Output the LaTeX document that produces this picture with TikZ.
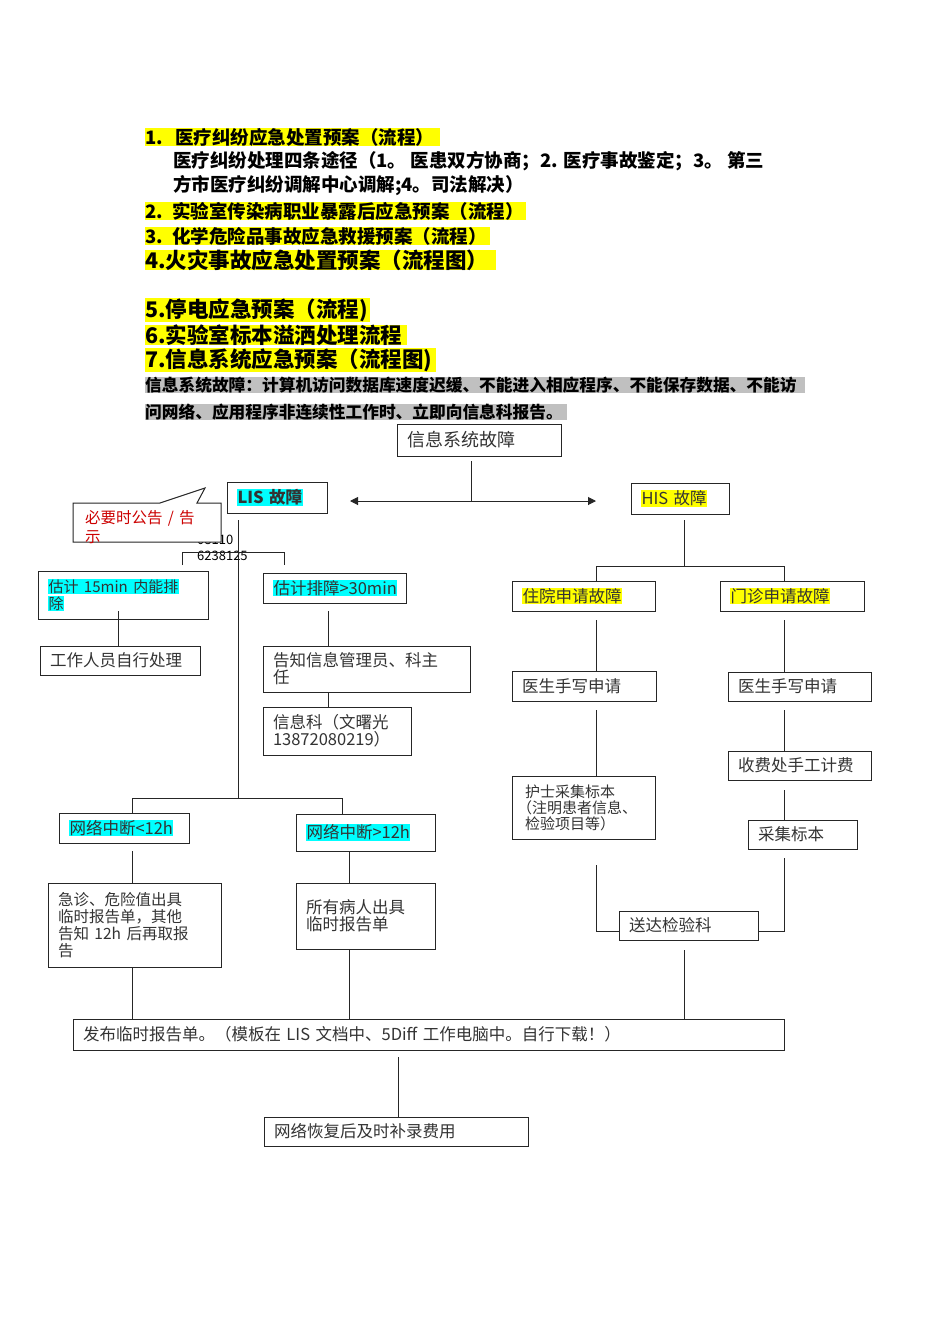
\documentclass[tikz,border=0pt]{standalone}
\usepackage{fontspec}
\setmainfont{Noto Sans CJK SC}
\usetikzlibrary{arrows.meta}
\definecolor{hlc}{RGB}{0,255,255}
\definecolor{hly}{RGB}{255,255,0}
\definecolor{hlg}{RGB}{192,192,192}
\newcommand{\cy}[1]{{\setlength{\fboxsep}{0.5pt}\colorbox{hlc}{#1}}}
\newcommand{\yl}[1]{{\setlength{\fboxsep}{0.5pt}\colorbox{hly}{#1}}}
\newcommand{\bx}[6]{\node[box,minimum width=#4pt-#2pt,minimum height=#5pt-#3pt,text width=#4pt-#2pt-20pt] (#1) at ({(#2+#4)/2},{(#3+#5)/2}) {#6};}
\begin{document}
\begin{tikzpicture}[x=1pt,y=-1pt,
 box/.style={draw=black!85,line width=1pt,fill=white,inner xsep=10pt,inner ysep=2pt,align=left,font=\fontsize{16.5}{17}\selectfont,text=black!80},
 ln/.style={line width=1pt,black!85},
 hd/.style={anchor=west,inner sep=0pt,align=left}]
\useasboundingbox (0,0) rectangle (950,1344);
% header
\node[hd,fill=hly,text width=295pt,font=\fontsize{18.5}{20}\selectfont\bfseries] (h1) at (145,137) {1.\ \ 医疗纠纷应急处置预案（流程）};
\node[hd,font=\fontsize{18.5}{20}\selectfont\bfseries] (h1a) at (173,161) {医疗纠纷处理四条途径（1。 医患双方协商；2. 医疗事故鉴定；3。 第三};
\node[hd,font=\fontsize{18.5}{20}\selectfont\bfseries] (h1b) at (173,186) {方市医疗纠纷调解中心调解;4。司法解决）};
\node[hd,fill=hly,text width=381pt,font=\fontsize{18.5}{20}\selectfont\bfseries] (h2) at (145,211) {2. 实验室传染病职业暴露后应急预案（流程）};
\node[hd,fill=hly,text width=345pt,font=\fontsize{18.5}{20}\selectfont\bfseries] (h3) at (145,236) {3. 化学危险品事故应急救援预案（流程）};
\node[hd,fill=hly,text width=351pt,font=\fontsize{21.5}{23}\selectfont\bfseries] (h4) at (145,260) {4.火灾事故应急处置预案（流程图）};
\node[hd,fill=hly,text width=225pt,font=\fontsize{21.5}{23}\selectfont\bfseries] (h5) at (145,310) {5.停电应急预案（流程)};
\node[hd,fill=hly,text width=262pt,font=\fontsize{21.5}{23}\selectfont\bfseries] (h6) at (145,335) {6.实验室标本溢洒处理流程};
\node[hd,fill=hly,text width=291pt,font=\fontsize{21.5}{23}\selectfont\bfseries] (h7) at (145,360) {7.信息系统应急预案（流程图)};
\node[hd,fill=hlg,text width=660pt,font=\fontsize{16.7}{18}\selectfont\bfseries] (g1) at (145,385) {信息系统故障：计算机访问数据库速度迟缓、不能进入相应程序、不能保存数据、不能访};
\node[hd,fill=hlg,text width=422pt,font=\fontsize{16.7}{18}\selectfont\bfseries] (g2) at (145,412) {问网络、应用程序非连续性工作时、立即向信息科报告。};
% top
\bx{top}{397}{424}{561}{456}{\fontsize{18}{19}\selectfont 信息系统故障}
\bx{lis}{227}{482}{327}{513}{\cy{\textbf{LIS 故障}}}
\bx{his}{631}{483}{729}{514}{\yl{HIS 故障}}
\coordinate (mid) at (471,501);
\coordinate (la) at (350,501);
\coordinate (ra) at (596,501);
\draw[ln] (471,461) -- (mid);
\draw[ln,-{Triangle[width=8pt,length=8pt]}] (mid) -- (la);
\draw[ln,-{Triangle[width=8pt,length=8pt]}] (mid) -- (ra);
% LIS branch
\node[anchor=west,inner sep=0pt,font=\fontsize{13}{14}\selectfont] (n1) at (197,540) {08110};
\node[anchor=west,inner sep=0pt,font=\fontsize{13}{14}\selectfont] (n2) at (197,556) {6238125};
\coordinate (lb1) at (182,565); \coordinate (lb2) at (284,565);
\draw[ln] (lb1) -- (182,552) -- (284,552) -- (lb2);
\coordinate (lisb) at (238,798);
\draw[ln] (238,520) -- (lisb);
\draw[ln,fill=white] (73,503) -- (160,503) -- (205,488) -- (197,503) -- (221,503) -- (221,542) -- (73,542) -- cycle;
\node[anchor=north west,inner sep=0pt,text width=128pt,text=red!80!black,font=\fontsize{15.5}{19}\selectfont] (call) at (85,510) {必要时公告 / 告\\示};
\bx{e15}{38}{571}{208}{619}{\fontsize{15}{16}\selectfont\cy{估计 15min 内能排}\\\cy{除}}
\bx{self}{40}{646}{200}{675}{工作人员自行处理}
\draw[ln] (118,611) -- (118,646);
\bx{e30}{263}{573}{406}{603}{\cy{估计排障>30min}}
\bx{tell}{263}{646}{470}{692}{告知信息管理员、科主\\任}
\bx{info}{263}{707}{411}{755}{信息科（文曙光\\13872080219）}
\draw[ln] (328,611) -- (328,646);
\draw[ln] (328,692) -- (328,707);
\draw[ln] (132,814) -- (132,798) -- (342,798) -- (342,814);
\bx{lt}{59}{813}{189}{843}{\cy{网络中断<12h}}
\bx{gt}{296}{814}{435}{851}{\cy{网络中断>12h}}
\bx{emg}{48}{883}{221}{967}{\fontsize{15.5}{17}\selectfont 急诊、危险值出具\\临时报告单，其他\\告知 12h 后再取报\\告}
\bx{all}{296}{883}{435}{949}{所有病人出具\\临时报告单\\[14pt]}
\draw[ln] (132,851) -- (132,883);
\draw[ln] (349,851) -- (349,883);
\bx{pub}{73}{1019}{784}{1050}{\centering 发布临时报告单。（模板在 LIS 文档中、5Diff 工作电脑中。自行下载！）}
\draw[ln] (132,967) -- (132,1019);
\draw[ln] (349,949) -- (349,1019);
\draw[ln] (684,950) -- (684,1019);
\bx{rec}{264}{1117}{528}{1146}{网络恢复后及时补录费用}
\draw[ln] (398,1057) -- (398,1117);
% HIS branch
\draw[ln] (684,520) -- (684,566);
\draw[ln] (596,581) -- (596,566) -- (784,566) -- (784,581);
\bx{zy}{512}{581}{655}{611}{\yl{住院申请故障}}
\bx{mz}{720}{581}{864}{611}{\yl{门诊申请故障}}
\bx{d1}{512}{671}{656}{701}{医生手写申请}
\node[box,minimum width=143pt,minimum height=63pt,text width=133pt,inner xsep=5pt,font=\fontsize{15}{16}\selectfont] (nur) at (583.5,807.5) {\hspace{8pt}护士采集标本\\（注明患者信息、\\\hspace{8pt}检验项目等）};
\bx{d2}{728}{672}{871}{701}{医生手写申请}
\bx{fee}{728}{751}{871}{780}{收费处手工计费}
\bx{col}{748}{820}{857}{849}{采集标本}
\bx{send}{619}{911}{758}{940}{送达检验科}
\draw[ln] (596,620) -- (596,671);
\draw[ln] (596,710) -- (596,776);
\draw[ln] (784,620) -- (784,672);
\draw[ln] (784,710) -- (784,751);
\draw[ln] (784,790) -- (784,820);
\draw[ln] (596,865) -- (596,931) -- (send.west |- 0,931);
\draw[ln] (784,858) -- (784,931) -- (send.east |- 0,931);
\end{tikzpicture}
\end{document}
